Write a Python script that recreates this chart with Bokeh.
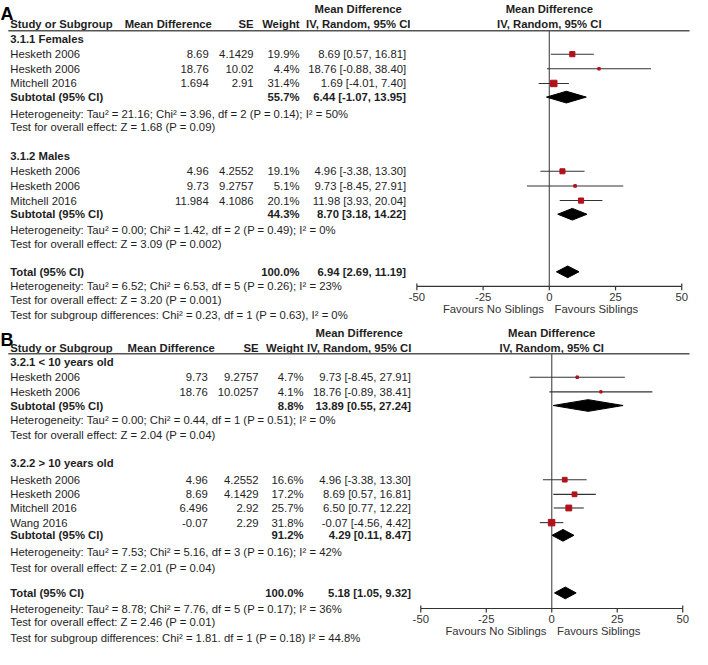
from bokeh.plotting import figure
from bokeh.models import Range1d
from bokeh.core.properties import value
from bokeh.embed import file_html
from bokeh.resources import INLINE

# ---------------- Panel A data ----------------
a_groups = ["3.1.1 Females", "3.1.2 Males"]
a_study = [["Hesketh 2006", "Hesketh 2006", "Mitchell 2016"],
           ["Hesketh 2006", "Hesketh 2006", "Mitchell 2016"]]
a_md = [[8.69, 18.76, 1.694], [4.96, 9.73, 11.984]]
a_se = [[4.1429, 10.02, 2.91], [4.2552, 9.2757, 4.1086]]
a_w = [[19.9, 4.4, 31.4], [19.1, 5.1, 20.1]]
a_est = [[8.69, 18.76, 1.69], [4.96, 9.73, 11.98]]
a_lo = [[0.57, -0.88, -4.01], [-3.38, -8.45, 3.93]]
a_hi = [[16.81, 38.40, 7.40], [13.30, 27.91, 20.04]]
a_sub_w = [55.7, 44.3]
a_sub_est = [6.44, 8.70]
a_sub_lo = [-1.07, 3.18]
a_sub_hi = [13.95, 14.22]
a_het = ["Heterogeneity: Tau\u00b2 = 21.16; Chi\u00b2 = 3.96, df = 2 (P = 0.14); I\u00b2 = 50%",
         "Heterogeneity: Tau\u00b2 = 0.00; Chi\u00b2 = 1.42, df = 2 (P = 0.49); I\u00b2 = 0%"]
a_test = ["Test for overall effect: Z = 1.68 (P = 0.09)",
          "Test for overall effect: Z = 3.09 (P = 0.002)"]
a_tot = [100.0, 6.94, 2.69, 11.19]
a_tot_text = ["Heterogeneity: Tau\u00b2 = 6.52; Chi\u00b2 = 6.53, df = 5 (P = 0.26); I\u00b2 = 23%",
              "Test for overall effect: Z = 3.20 (P = 0.001)",
              "Test for subgroup differences: Chi\u00b2 = 0.23, df = 1 (P = 0.63), I\u00b2 = 0%"]

# ---------------- Panel B data ----------------
b_groups = ["3.2.1 < 10 years old", "3.2.2 > 10 years old"]
b_study = [["Hesketh 2006", "Hesketh 2006"],
           ["Hesketh 2006", "Hesketh 2006", "Mitchell 2016", "Wang 2016"]]
b_md = [[9.73, 18.76], [4.96, 8.69, 6.496, -0.07]]
b_se = [[9.2757, 10.0257], [4.2552, 4.1429, 2.92, 2.29]]
b_w = [[4.7, 4.1], [16.6, 17.2, 25.7, 31.8]]
b_est = [[9.73, 18.76], [4.96, 8.69, 6.50, -0.07]]
b_lo = [[-8.45, -0.89], [-3.38, 0.57, 0.77, -4.56]]
b_hi = [[27.91, 38.41], [13.30, 16.81, 12.22, 4.42]]
b_sub_w = [8.8, 91.2]
b_sub_est = [13.89, 4.29]
b_sub_lo = [0.55, 0.11]
b_sub_hi = [27.24, 8.47]
b_het = ["Heterogeneity: Tau\u00b2 = 0.00; Chi\u00b2 = 0.44, df = 1 (P = 0.51); I\u00b2 = 0%",
         "Heterogeneity: Tau\u00b2 = 7.53; Chi\u00b2 = 5.16, df = 3 (P = 0.16); I\u00b2 = 42%"]
b_test = ["Test for overall effect: Z = 2.04 (P = 0.04)",
          "Test for overall effect: Z = 2.01 (P = 0.04)"]
b_tot = [100.0, 5.18, 1.05, 9.32]
b_tot_text = ["Heterogeneity: Tau\u00b2 = 8.78; Chi\u00b2 = 7.76, df = 5 (P = 0.17); I\u00b2 = 36%",
              "Test for overall effect: Z = 2.46 (P = 0.01)",
              "Test for subgroup differences: Chi\u00b2 = 1.81. df = 1 (P = 0.18)  I\u00b2 = 44.8%"]

ticks = [-50, -25, 0, 25, 50]
tick_labels = ["-50", "-25", "0", "25", "50"]
favours = ["Favours No Siblings", "Favours Siblings"]
headers = ["Study or Subgroup", "Mean Difference", "SE", "Weight", "Mean Difference", "IV, Random, 95% CI"]

FONT = value("Liberation Sans")
FS = "11.3px"
TXT = "#1e1e1e"
RED = "#b0111a"

p = figure(width=692, height=649, x_range=Range1d(0, 708), y_range=Range1d(665, 0),
           output_backend="svg", toolbar_location=None, min_border=0,
           x_axis_location=None, y_axis_location=None)
p.grid.visible = False
p.outline_line_color = None
p.extra_x_ranges = {"mdA": Range1d(-50 - 426 * 100 / 271, 50 + 11 * 100 / 271),
                    "mdB": Range1d(-50 - 430 * 100 / 268, 50 + 10 * 100 / 268)}


def txt(xs, ys, texts, align="left", bold=False, size=FS, rng="default", color=TXT, baseline="middle"):
    p.text(x=xs, y=ys, text=texts, text_align=align, text_baseline=baseline,
           text_font=FONT, text_font_size=size, text_color=color,
           text_font_style="bold" if bold else "normal", x_range_name=rng)


def ci(e, l, h):
    return f"{e:.2f} [{l:.2f}, {h:.2f}]"


def panel(letter, groups, study, md, se, w, est, lo, hi, sw, se_, sl, sh, het, test, tot, tot_text, L):
    rng = L["rng"]
    c = L["cols"]
    txt([0], [L["letter"]], [letter], bold=True, size="18px", baseline="alphabetic", color="#000")
    # headers
    txt([c["ci_c"]], [L["h1"]], [headers[4]], align="center", bold=True)
    txt([c["name"]], [L["h2"]], [headers[0]], bold=True)
    txt([c["mdh"]], [L["h2"]], [headers[1]], bold=True)
    txt([c["se"]], [L["h2"]], [headers[2]], align="right", bold=True)
    txt([c["w"]], [L["h2"]], [headers[3]], align="right", bold=True)
    txt([c["ci_c"]], [L["h2"]], [headers[5]], align="center", bold=True)
    txt([0], [L["h1"]], [headers[4]], align="center", bold=True, rng=rng)
    txt([0], [L["h2"]], [headers[5]], align="center", bold=True, rng=rng)
    p.segment(x0=[8], x1=[705], y0=[L["line"]], y1=[L["line"]], line_color="#555", line_width=1.6)
    # zero line
    p.segment(x0=[0], x1=[0], y0=[L["line"]], y1=[L["axis"]], line_color="#555", line_width=1.2, x_range_name=rng)
    for g in range(len(groups)):
        G = L["groups"][g]
        ry = G["rows"]
        txt([c["name"]], [G["title"]], [groups[g]], bold=True)
        txt([c["name"]] * len(ry), ry, study[g])
        txt([c["md"]] * len(ry), ry, [str(v) for v in md[g]], align="right")
        txt([c["se"]] * len(ry), ry, [str(v) for v in se[g]], align="right")
        txt([c["w"]] * len(ry), ry, [f"{v:.1f}%" for v in w[g]], align="right")
        txt([c["ci"]] * len(ry), ry, [ci(e, l, h) for e, l, h in zip(est[g], lo[g], hi[g])], align="right")
        txt([c["name"]], [G["sub"]], ["Subtotal (95% CI)"], bold=True)
        txt([c["w"]], [G["sub"]], [f"{sw[g]:.1f}%"], align="right", bold=True)
        txt([c["ci"]], [G["sub"]], [ci(se_[g], sl[g], sh[g])], align="right", bold=True)
        txt([c["name"]] * 2, [G["het"], G["test"]], [het[g], test[g]])
        # forest
        p.segment(x0=lo[g], x1=hi[g], y0=ry, y1=ry, line_color="#333", line_width=1.1, x_range_name=rng)
        p.scatter(x=est[g], y=ry, size=[1.15 * v ** 0.5 for v in w[g]], marker="square",
                  fill_color=RED, line_color=RED, x_range_name=rng)
        d = 6
        p.patch(x=[sl[g], se_[g], sh[g], se_[g]], y=[G["sub"], G["sub"] - d, G["sub"], G["sub"] + d],
                fill_color="black", line_color="black", x_range_name=rng)
    # total
    ty = L["total"]
    txt([c["name"]], [ty], ["Total (95% CI)"], bold=True)
    txt([c["w"]], [ty], [f"{tot[0]:.1f}%"], align="right", bold=True)
    txt([c["ci"]], [ty], [ci(tot[1], tot[2], tot[3])], align="right", bold=True)
    txt([c["name"]] * 3, L["tot_lines"], tot_text)
    p.patch(x=[tot[2], tot[1], tot[3], tot[1]], y=[ty, ty - 6, ty, ty + 6],
            fill_color="black", line_color="black", x_range_name=rng)
    # axis
    ay = L["axis"]
    p.segment(x0=[ticks[0]], x1=[ticks[-1]], y0=[ay], y1=[ay], line_color="#333", line_width=1.2, x_range_name=rng)
    p.segment(x0=ticks, x1=ticks, y0=[ay] * len(ticks), y1=[ay + 4] * len(ticks), line_color="#333",
              line_width=1.2, x_range_name=rng)
    p.segment(x0=[ticks[0], ticks[-1]], x1=[ticks[0], ticks[-1]], y0=[ay - 3] * 2, y1=[ay] * 2,
              line_color="#333", line_width=1.2, x_range_name=rng)
    txt(ticks, [L["ticklab"]] * len(ticks), tick_labels, align="center", rng=rng, color="#333")
    txt([-2], [L["fav"]], [favours[0]], align="right", rng=rng, color="#333")
    txt([2], [L["fav"]], [favours[1]], align="left", rng=rng, color="#333")


LA = dict(rng="mdA", letter=13.5, h1=9, h2=24, line=31,
          cols=dict(name=10, mdh=127, md=213, se=259, w=306, ci=415, ci_c=366),
          groups=[dict(title=39, rows=[55, 70, 85], sub=99, het=116, test=130),
                  dict(title=159, rows=[175, 190, 205], sub=219, het=235, test=250)],
          total=278, tot_lines=[293, 307, 322], axis=293, ticklab=304, fav=316)
LB = dict(rng="mdB", letter=348, h1=341, h2=356, line=362,
          cols=dict(name=10, mdh=130, md=212, se=264, w=310, ci=420, ci_c=367),
          groups=[dict(title=370, rows=[386, 401], sub=415, het=430, test=445),
                  dict(title=474, rows=[491, 506, 520, 535], sub=548, het=565, test=581)],
          total=607, tot_lines=[623, 637, 653], axis=623, ticklab=634, fav=646)

panel("A", a_groups, a_study, a_md, a_se, a_w, a_est, a_lo, a_hi, a_sub_w, a_sub_est, a_sub_lo, a_sub_hi,
      a_het, a_test, a_tot, a_tot_text, LA)
panel("B", b_groups, b_study, b_md, b_se, b_w, b_est, b_lo, b_hi, b_sub_w, b_sub_est, b_sub_lo, b_sub_hi,
      b_het, b_test, b_tot, b_tot_text, LB)

open("out.html", "w").write(file_html(p, INLINE))
